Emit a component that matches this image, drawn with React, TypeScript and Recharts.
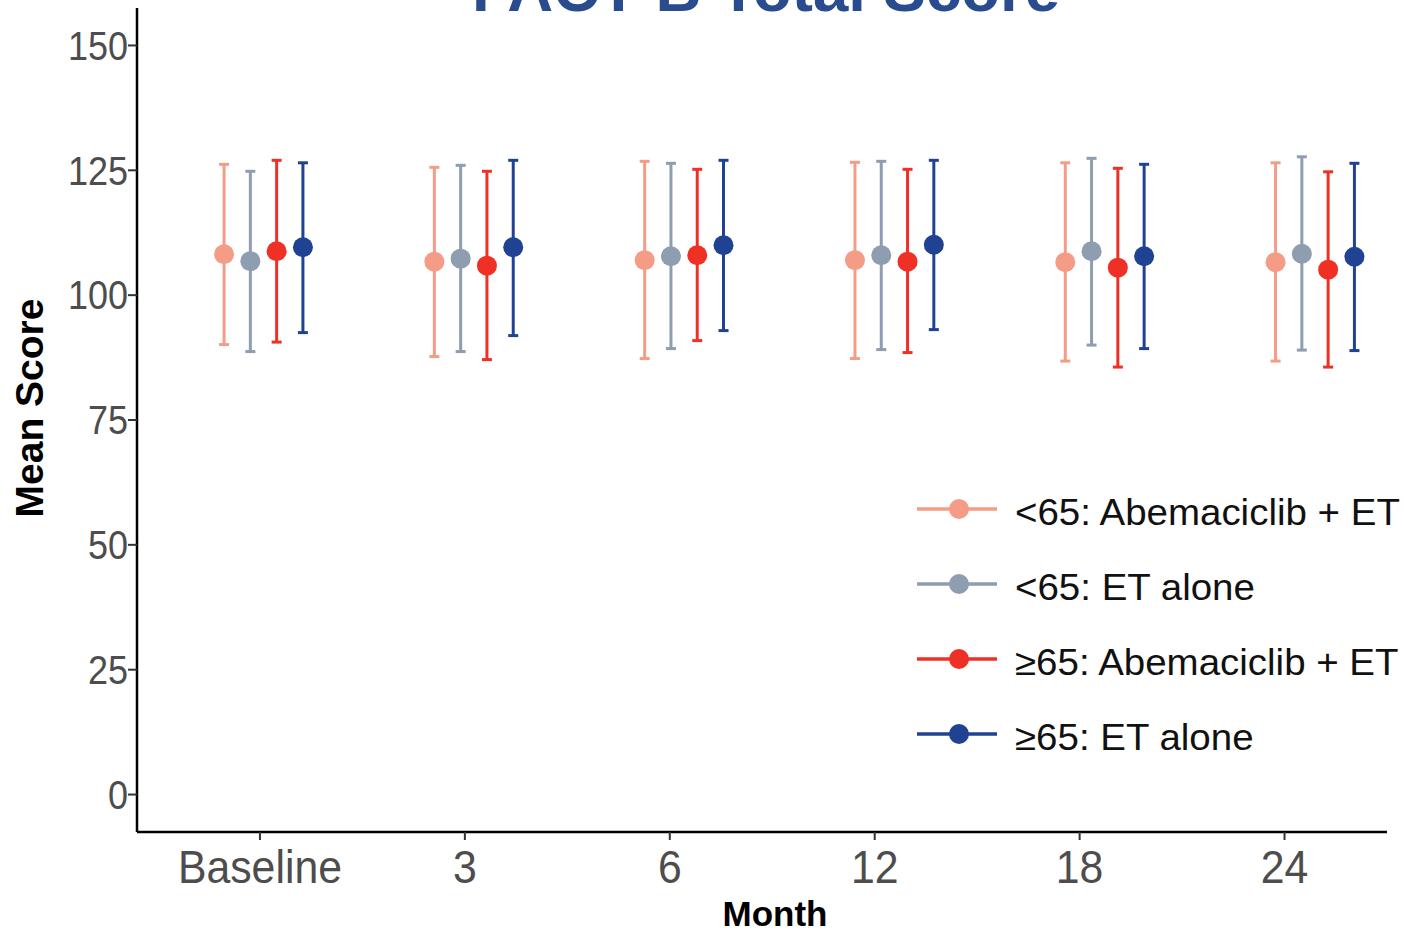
import React from 'react';
import { ScatterChart, Scatter, XAxis, YAxis, ErrorBar, Legend, Label } from 'recharts';

// ---------- data ----------
const categories = ['Baseline', '3', '6', '12', '18', '24'];
const seriesNames = ['<65: Abemaciclib + ET', '<65: ET alone', '\u226565: Abemaciclib + ET', '\u226565: ET alone'];
const seriesColors = ['#F49C86', '#8E9DB0', '#EE3124', '#1F4293'];

const under65AbemaMean = [108.2, 106.7, 107.0, 107.0, 106.6, 106.6];
const under65AbemaLow = [90.1, 87.7, 87.3, 87.3, 86.8, 86.8];
const under65AbemaHigh = [126.2, 125.6, 126.8, 126.6, 126.5, 126.5];

const under65EtMean = [106.8, 107.3, 107.8, 108.0, 108.8, 108.3];
const under65EtLow = [88.7, 88.7, 89.3, 89.1, 90.0, 89.0];
const under65EtHigh = [124.8, 126.0, 126.4, 126.8, 127.4, 127.7];

const over65AbemaMean = [108.8, 105.9, 108.0, 106.7, 105.5, 105.1];
const over65AbemaLow = [90.6, 87.1, 90.9, 88.5, 85.6, 85.6];
const over65AbemaHigh = [127.0, 124.8, 125.2, 125.2, 125.4, 124.7];

const over65EtMean = [109.6, 109.6, 110.0, 110.1, 107.8, 107.7];
const over65EtLow = [92.5, 91.9, 92.9, 93.1, 89.3, 88.9];
const over65EtHigh = [126.5, 127.0, 127.0, 127.0, 126.2, 126.4];

const yTicks = [0, 25, 50, 75, 100, 125, 150];

// ---------- derived tables ----------
const DODGE = 0.125;
const seriesMeans = [under65AbemaMean, under65EtMean, over65AbemaMean, over65EtMean];
const seriesLows = [under65AbemaLow, under65EtLow, over65AbemaLow, over65EtLow];
const seriesHighs = [under65AbemaHigh, under65EtHigh, over65AbemaHigh, over65EtHigh];

const seriesData = seriesMeans.map((means, s) =>
  categories.map((c, i) => ({
    category: c,
    slot: i + (s - 1.5) * DODGE,
    mean: means[i],
    err: [means[i] - seriesLows[s][i], seriesHighs[s][i] - means[i]],
  }))
);

const FONT = '"Liberation Sans", Arial, Helvetica, sans-serif';

const XTick = (props: any) => {
  const { x, y, payload } = props;
  return (
    <g transform={`translate(${x},${y})`}>
      <text transform="scale(0.93,1)" textAnchor="middle" dy="0.71em" fontSize={46} fill="#4D4D4D" fontFamily={FONT}>
        {categories[payload.value]}
      </text>
    </g>
  );
};

const YTick = (props: any) => {
  const { x, y, payload } = props;
  return (
    <g transform={`translate(${x},${y})`}>
      <text transform="scale(0.9,1)" textAnchor="end" dy="0.355em" fontSize={40} fill="#4D4D4D" fontFamily={FONT}>
        {payload.value}
      </text>
    </g>
  );
};

const LegendBox = () => (
  <svg width={504} height={300}>
    {seriesNames.map((name, k) => {
      const cy = 39 + 75 * k;
      return (
        <g key={name}>
          <line x1={17} x2={97} y1={cy} y2={cy} stroke={seriesColors[k]} strokeWidth={3.5} />
          <circle cx={59} cy={cy} r={10} fill={seriesColors[k]} />
          <g transform={`translate(115,${cy + 16})`}>
            <text transform="scale(1.04,1)" fontSize={37} fill="#111" fontFamily={FONT}>
              {name}
            </text>
          </g>
        </g>
      );
    })}
  </svg>
);

export default function App() {
  return (
    <div style={{ position: 'absolute', left: 0, top: 0, width: 1404, height: 935, background: '#fff' }}>
      <ScatterChart width={1404} height={935} margin={{ top: 8, right: 17, bottom: 0, left: 0 }}>
        <XAxis
          xAxisId="cat"
          type="number"
          dataKey="slot"
          domain={[-0.6, 5.5]}
          ticks={[0, 1, 2, 3, 4, 5]}
          allowDataOverflow
          height={103}
          tick={<XTick />}
          tickSize={8}
          tickMargin={10}
          tickLine={{ stroke: '#333', strokeWidth: 2 }}
          axisLine={{ stroke: '#000', strokeWidth: 2.5 }}
        >
          <Label
            content={(p: any) => {
              const vb = p.viewBox;
              return (
                <text x={vb.x + vb.width / 2 + 13} y={926} textAnchor="middle" fontSize={35} fontWeight="bold" fill="#000" fontFamily={FONT}>
                  Month
                </text>
              );
            }}
          />
        </XAxis>
        <XAxis xAxisId="pos" type="number" dataKey="slot" domain={[-0.6015, 5.3424]} allowDataOverflow hide />
        <YAxis
          yAxisId="y"
          type="number"
          dataKey="mean"
          domain={[-7.5, 157.5]}
          ticks={yTicks}
          allowDataOverflow
          width={137}
          tick={<YTick />}
          tickSize={9}
          tickMargin={0}
          tickLine={{ stroke: '#333', strokeWidth: 2 }}
          axisLine={{ stroke: '#000', strokeWidth: 2.5 }}
        >
          <Label
            content={() => (
              <text x={43} y={408} transform="rotate(-90, 43, 408)" textAnchor="middle" fontSize={39} fontWeight="bold" fill="#000" fontFamily={FONT}>
                Mean Score
              </text>
            )}
          />
        </YAxis>
        {seriesData.map((data, s) => (
          <Scatter
            key={seriesNames[s]}
            name={seriesNames[s]}
            data={data}
            xAxisId="pos"
            yAxisId="y"
            dataKey="mean"
            fill={seriesColors[s]}
            isAnimationActive={false}
            shape={(p: any) => <circle cx={p.cx} cy={p.cy} r={10} fill={seriesColors[s]} />}
          >
            <ErrorBar dataKey="err" direction="y" width={5} stroke={seriesColors[s]} strokeWidth={3} isAnimationActive={false} />
          </Scatter>
        ))}
        <Legend
          layout="vertical"
          align="center"
          verticalAlign="middle"
          wrapperStyle={{ position: 'absolute', left: 900, top: 470, width: 504, height: 300 }}
          content={() => <LegendBox />}
        />
      </ScatterChart>
      <svg width={1404} height={40} style={{ position: 'absolute', left: 0, top: 0, pointerEvents: 'none' }}>
        <text x={766} y={11} textAnchor="middle" fontSize={63.5} fontWeight="bold" fill="#2A4B8D" fontFamily={FONT}>
          FACT-B Total Score
        </text>
      </svg>
    </div>
  );
}
